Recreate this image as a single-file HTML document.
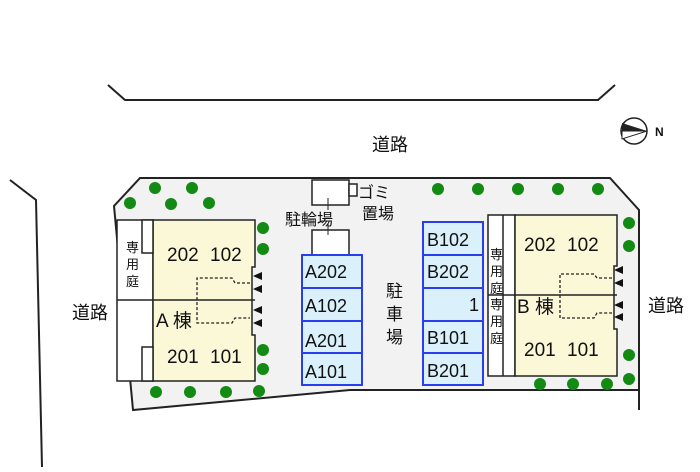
<!DOCTYPE html>
<html><head><meta charset="utf-8"><style>
body{margin:0;background:#fff}
svg text{font-family:"Liberation Sans","Noto Sans CJK JP",sans-serif;fill:#111}
</style></head><body>
<svg width="700" height="467" viewBox="0 0 700 467" xmlns="http://www.w3.org/2000/svg">
<g fill="none" stroke="#222" stroke-width="2">
<polyline points="108,85 125,100 598,100 615,85"/>
<polyline points="10,180 36,200 42,467"/>
</g>
<polygon points="140,178 610,178 639,210 639,390 350,390 133,410 114,206" fill="#f2f2f2" stroke="#222" stroke-width="2"/>
<line x1="639" y1="390" x2="639" y2="410" stroke="#222" stroke-width="2"/>
<text x="390" y="151" font-size="18" text-anchor="middle">道路</text>
<text x="90" y="319" font-size="18" text-anchor="middle">道路</text>
<text x="666" y="312" font-size="18" text-anchor="middle">道路</text>
<!-- compass -->
<circle cx="634" cy="131" r="13" fill="#fff" stroke="#222" stroke-width="1.5"/>
<polygon points="622,131 647,131 622,123" fill="#222"/>
<polygon points="622,131 647,131 622,139" fill="#fff" stroke="#222"/>
<text x="655" y="136" font-size="12" font-weight="bold">N</text>
<!-- trees -->
<g fill="#138a13">
<circle cx="155" cy="188" r="6"/><circle cx="192" cy="188" r="6"/><circle cx="130" cy="203" r="6"/><circle cx="171" cy="204" r="6"/><circle cx="209" cy="203" r="6"/>
<circle cx="263" cy="228" r="6"/><circle cx="263" cy="249" r="6"/><circle cx="263" cy="350" r="6"/><circle cx="263" cy="369" r="6"/>
<circle cx="156" cy="392" r="6"/><circle cx="190" cy="392" r="6"/><circle cx="226" cy="392" r="6"/><circle cx="259" cy="391" r="6"/>
<circle cx="438" cy="189" r="6"/><circle cx="478" cy="189" r="6"/><circle cx="518" cy="189" r="6"/><circle cx="558" cy="189" r="6"/><circle cx="598" cy="189" r="6"/>
<circle cx="629" cy="223" r="6"/><circle cx="629" cy="246" r="6"/><circle cx="629" cy="355" r="6"/><circle cx="629" cy="379" r="6"/>
<circle cx="540" cy="384" r="6"/><circle cx="573" cy="384" r="6"/><circle cx="607" cy="384" r="6"/>
</g>
<!-- building A -->
<g stroke="#222" stroke-width="1.5">
<rect x="117" y="220" width="36" height="161" fill="#fff"/>
<path d="M153,220 H255 V267 H252 V335 H255 V381 H153 Z" fill="#fbf8d8"/>
<line x1="117" y1="300" x2="255" y2="300"/>
<rect x="142" y="220" width="11" height="33" fill="#fff"/>
<rect x="142" y="347" width="11" height="34" fill="#fff"/>
</g>
<g fill="none" stroke="#222" stroke-width="1.3" stroke-dasharray="3,2">
<polyline points="250,283 235,283 232,278 197,278 197,323 232,323 235,318 250,318"/>
</g>
<g fill="#111"><polygon points="253,276 262,272 262,280"/><polygon points="253,289 262,285 262,293"/><polygon points="253,310 262,306 262,314"/><polygon points="253,323 262,319 262,327"/></g>
<text x="126" y="252" font-size="13">専</text><text x="126" y="269" font-size="13">用</text><text x="126" y="286" font-size="13">庭</text>
<text x="167" y="261" font-size="19">202</text><text x="210" y="261" font-size="19">102</text>
<text x="156" y="327" font-size="19">A 棟</text>
<text x="167" y="363" font-size="19">201</text><text x="210" y="363" font-size="19">101</text>
<!-- bike / gomi -->
<g stroke="#222" stroke-width="1.5" fill="#fff">
<rect x="312" y="180" width="37" height="25"/><rect x="312" y="230" width="37" height="25"/>
<rect x="349" y="184" width="8" height="12"/>
</g>
<line x1="328" y1="198" x2="328" y2="210" stroke="#222"/><line x1="328" y1="224" x2="328" y2="235" stroke="#222"/>
<text x="358" y="198" font-size="16">ゴミ</text><text x="362" y="219" font-size="16">置場</text>
<text x="285" y="225" font-size="16">駐輪場</text>
<text x="386" y="297" font-size="17">駐</text><text x="386" y="320" font-size="17">車</text><text x="386" y="343" font-size="17">場</text>
<!-- parking A -->
<g stroke="#2a3ef0" stroke-width="2" fill="#daf0fa">
<rect x="302" y="255" width="60" height="130"/>
<line x1="302" y1="288" x2="362" y2="288"/><line x1="302" y1="321" x2="362" y2="321"/><line x1="302" y1="353" x2="362" y2="353"/>
</g>
<g font-size="18"><text x="305" y="278">A202</text><text x="305" y="312">A102</text><text x="305" y="347">A201</text><text x="305" y="378">A101</text></g>
<!-- parking B -->
<g stroke="#2a3ef0" stroke-width="2" fill="#daf0fa">
<rect x="423" y="222" width="60" height="163"/>
<line x1="423" y1="255" x2="483" y2="255"/><line x1="423" y1="288" x2="483" y2="288"/><line x1="423" y1="321" x2="483" y2="321"/><line x1="423" y1="353" x2="483" y2="353"/>
</g>
<g font-size="18"><text x="427" y="246">B102</text><text x="427" y="278">B202</text><text x="479" y="311" text-anchor="end">1</text><text x="427" y="344">B101</text><text x="427" y="377">B201</text></g>
<!-- building B -->
<g stroke="#222" stroke-width="1.5">
<rect x="488" y="215" width="27" height="161" fill="#fff"/>
<line x1="503" y1="215" x2="503" y2="376"/>
<path d="M515,215 H617 V266 H614 V329 H617 V376 H515 Z" fill="#fbf8d8"/>
<line x1="488" y1="295" x2="617" y2="295"/>
</g>
<g fill="none" stroke="#222" stroke-width="1.3" stroke-dasharray="3,2">
<polyline points="612,278 597,278 594,274 560,274 560,318 594,318 597,313 612,313"/>
</g>
<g fill="#111"><polygon points="614,270 623,266 623,274"/><polygon points="614,283 623,279 623,287"/><polygon points="614,305 623,301 623,309"/><polygon points="614,317 623,313 623,321"/></g>
<g font-size="13"><text x="490" y="259">専</text><text x="490" y="276">用</text><text x="490" y="293">庭</text><text x="490" y="309">専</text><text x="490" y="326">用</text><text x="490" y="343">庭</text></g>
<text x="524" y="251" font-size="19">202</text><text x="567" y="251" font-size="19">102</text>
<text x="517" y="313" font-size="19">B 棟</text>
<text x="524" y="356" font-size="19">201</text><text x="567" y="356" font-size="19">101</text>
</svg>
</body></html>
